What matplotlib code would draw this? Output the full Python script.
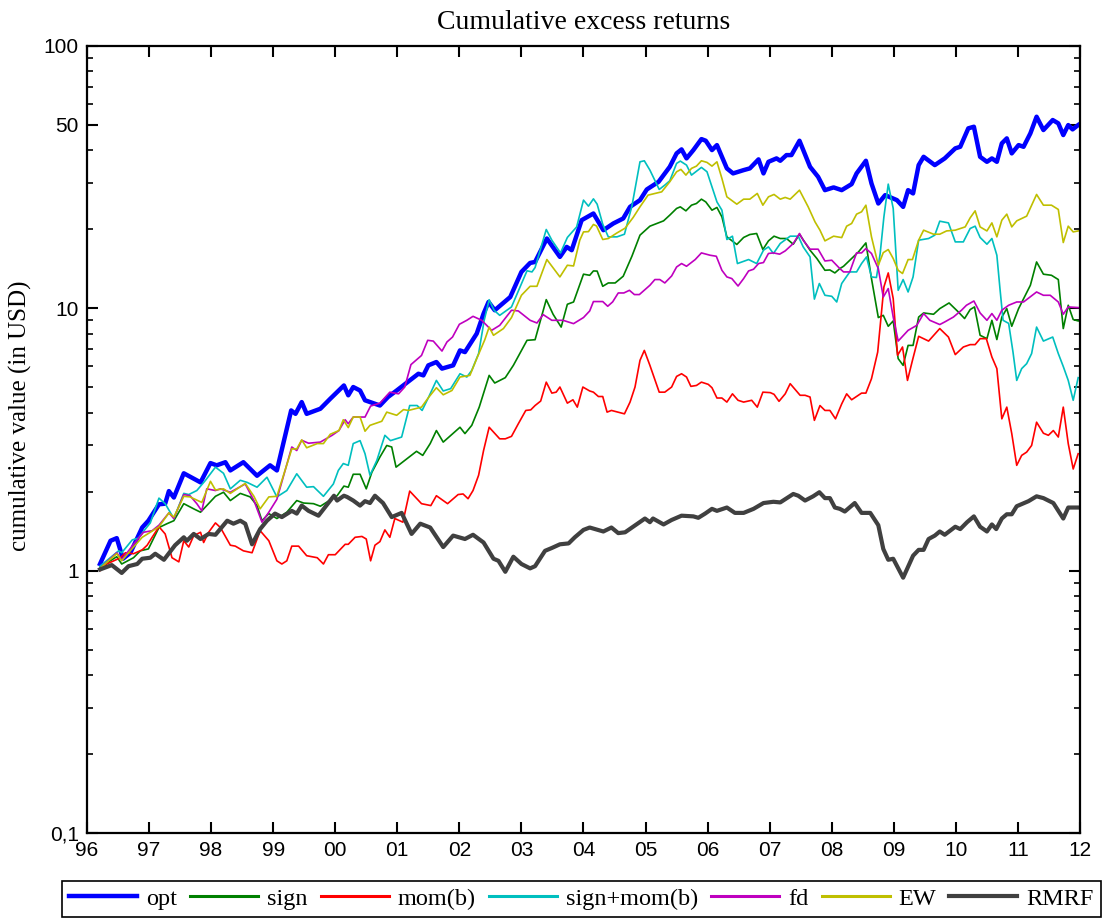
import matplotlib
matplotlib.use("Agg")
import matplotlib.pyplot as plt
from matplotlib.ticker import FixedLocator, FixedFormatter, NullFormatter

# Datos (anio decimal, valor acumulado)
opt_t = [1996.21, 1996.38, 1996.48, 1996.58, 1996.70, 1996.89, 1996.99, 1997.16, 1997.26, 1997.32, 1997.40, 1997.56,
         1997.83, 1997.99, 1998.09, 1998.23, 1998.31, 1998.52, 1998.74, 1998.95, 1999.06, 1999.29, 1999.36, 1999.46,
         1999.54, 1999.76, 1999.92, 2000.14, 2000.21, 2000.29, 2000.40, 2000.48, 2000.72, 2000.85, 2000.99, 2001.20,
         2001.34, 2001.42, 2001.50, 2001.63, 2001.72, 2001.90, 2002.01, 2002.09, 2002.28, 2002.39, 2002.47, 2002.57,
         2002.82, 2003.00, 2003.14, 2003.22, 2003.41, 2003.62, 2003.73, 2003.81, 2003.97, 2004.16, 2004.24, 2004.32,
         2004.48, 2004.64, 2004.75, 2004.91, 2005.02, 2005.21, 2005.39, 2005.50, 2005.58, 2005.66, 2005.77, 2005.90,
         2005.97, 2006.07, 2006.15, 2006.31, 2006.41, 2006.58, 2006.68, 2006.82, 2006.90, 2006.98, 2007.11, 2007.17,
         2007.27, 2007.35, 2007.48, 2007.65, 2007.78, 2007.89, 2008.03, 2008.16, 2008.32, 2008.40, 2008.55, 2008.64,
         2008.75, 2008.86, 2009.05, 2009.15, 2009.23, 2009.31, 2009.40, 2009.48, 2009.66, 2009.82, 2009.99, 2010.07,
         2010.20, 2010.29, 2010.39, 2010.50, 2010.58, 2010.66, 2010.74, 2010.82, 2010.90, 2011.01, 2011.09, 2011.20,
         2011.30, 2011.41, 2011.56, 2011.65, 2011.73, 2011.81, 2011.88, 2011.97]
opt_v = [1.06, 1.30, 1.33, 1.11, 1.17, 1.46, 1.55, 1.79, 1.80, 2.01, 1.90, 2.35,
         2.17, 2.57, 2.52, 2.59, 2.41, 2.59, 2.30, 2.52, 2.41, 4.08, 3.96, 4.39,
         3.96, 4.14, 4.52, 5.08, 4.66, 5.01, 4.86, 4.46, 4.26, 4.59, 4.86, 5.31,
         5.63, 5.55, 6.06, 6.24, 5.89, 6.06, 6.91, 6.81, 8.01, 9.54, 10.57, 9.83,
         11.04, 13.76, 14.89, 15.02, 18.45, 15.70, 17.14, 16.65, 21.67, 22.98, 21.35, 19.85,
         21.05, 22.0, 24.36, 25.84, 28.38, 30.35, 34.62, 38.95, 40.34, 37.27, 40.09, 44.16,
         43.52, 40.09, 41.89, 34.14, 32.67, 33.63, 34.14, 36.95, 32.67, 36.17, 37.27, 36.50,
         38.37, 38.37, 43.52, 34.62, 31.70, 28.21, 28.89, 28.21, 29.74, 32.67, 36.50, 29.91,
         25.09, 27.00, 25.84, 24.36, 28.21, 27.40, 35.14, 37.80, 35.14, 37.27, 40.70, 41.27,
         48.52, 49.21, 37.80, 36.17, 37.27, 36.17, 42.53, 44.43, 38.95, 41.89, 41.27, 46.43,
         53.73, 47.80, 52.19, 50.70, 45.75, 49.94, 48.08, 49.94]

sign_t = [1996.21, 1996.48, 1996.56, 1996.75, 1996.86, 1996.99, 1997.16, 1997.29, 1997.40, 1997.56, 1997.72, 1997.83,
          1998.07, 1998.20, 1998.31, 1998.47, 1998.63, 1998.74, 1998.82, 1998.93, 1999.06, 1999.22, 1999.38, 1999.49,
          1999.65, 1999.76, 1999.92, 2000.03, 2000.14, 2000.21, 2000.29, 2000.40, 2000.50, 2000.59, 2000.72, 2000.83,
          2000.91, 2000.98, 2001.12, 2001.31, 2001.41, 2001.53, 2001.63, 2001.74, 2002.01, 2002.09, 2002.20, 2002.32,
          2002.48, 2002.57, 2002.74, 2002.87, 2003.09, 2003.22, 2003.40, 2003.51, 2003.64, 2003.74, 2003.84, 2004.00,
          2004.10, 2004.16, 2004.22, 2004.31, 2004.40, 2004.51, 2004.64, 2004.78, 2004.91, 2005.07, 2005.29, 2005.39,
          2005.50, 2005.56, 2005.65, 2005.74, 2005.82, 2005.90, 2005.97, 2006.07, 2006.15, 2006.23, 2006.31, 2006.47,
          2006.58, 2006.68, 2006.79, 2006.89, 2006.98, 2007.07, 2007.17, 2007.27, 2007.38, 2007.48, 2007.65, 2007.76,
          2007.89, 2007.97, 2008.05, 2008.13, 2008.19, 2008.32, 2008.43, 2008.55, 2008.64, 2008.75, 2008.83, 2008.91,
          2008.99, 2009.07, 2009.15, 2009.23, 2009.31, 2009.40, 2009.48, 2009.64, 2009.74, 2009.89, 2010.04, 2010.14,
          2010.23, 2010.30, 2010.39, 2010.50, 2010.58, 2010.66, 2010.74, 2010.82, 2010.90, 2011.01, 2011.20, 2011.30,
          2011.41, 2011.54, 2011.65, 2011.73, 2011.81, 2011.89, 2011.97]
sign_v = [1.03, 1.13, 1.06, 1.12, 1.19, 1.21, 1.46, 1.51, 1.55, 1.80, 1.72, 1.67,
          1.92, 1.99, 1.85, 1.97, 1.91, 1.77, 1.55, 1.65, 1.58, 1.67, 1.85, 1.81,
          1.80, 1.76, 1.86, 1.93, 2.10, 2.08, 2.33, 2.33, 2.05, 2.37, 2.71, 3.00,
          2.96, 2.48, 2.63, 2.85, 2.75, 3.05, 3.42, 3.09, 3.52, 3.33, 3.58, 4.20,
          5.55, 5.19, 5.44, 6.06, 7.55, 7.59, 10.79, 9.49, 8.48, 10.36, 10.57, 13.49,
          13.36, 13.88, 13.86, 12.13, 12.49, 12.49, 13.25, 15.79, 19.0, 20.56, 21.54, 22.65,
          24.02, 24.36, 23.52, 24.72, 25.09, 26.06, 25.44, 23.66, 24.23, 22.31, 18.72, 17.51,
          18.62, 19.11, 19.28, 16.75, 18.07, 18.83, 18.45, 18.45, 17.55, 19.16, 16.65, 15.48,
          13.96, 14.0, 13.64, 14.17, 14.46, 15.48, 16.4, 17.75, 12.98, 9.22, 9.40, 8.54,
          8.95, 6.43, 6.06, 7.22, 7.22, 9.26, 9.60, 9.49, 9.97, 10.48, 9.68, 9.14,
          9.89, 10.12, 7.89, 7.66, 9.0, 7.6, 9.26, 9.97, 8.54, 9.97, 12.24, 15.02,
          13.49, 13.36, 12.87, 8.37, 10.27, 9.06, 8.95]

momb_t = [1996.21, 1996.32, 1996.54, 1996.62, 1996.75, 1996.89, 1996.97, 1997.05, 1997.16, 1997.26, 1997.37, 1997.48,
          1997.56, 1997.64, 1997.72, 1997.83, 1997.88, 1997.96, 1998.07, 1998.15, 1998.31, 1998.39, 1998.52, 1998.66,
          1998.79, 1998.93, 1999.06, 1999.14, 1999.22, 1999.30, 1999.41, 1999.54, 1999.71, 1999.81, 1999.89, 2000.00,
          2000.16, 2000.21, 2000.32, 2000.43, 2000.50, 2000.57, 2000.64, 2000.72, 2000.80, 2000.88, 2000.96, 2001.09,
          2001.20, 2001.39, 2001.54, 2001.63, 2001.81, 2001.98, 2002.06, 2002.14, 2002.22, 2002.31, 2002.39, 2002.48,
          2002.65, 2002.74, 2002.84, 2002.95, 2003.07, 2003.15, 2003.22, 2003.31, 2003.40, 2003.49, 2003.56, 2003.62,
          2003.74, 2003.83, 2003.90, 2003.99, 2004.10, 2004.16, 2004.24, 2004.31, 2004.38, 2004.45, 2004.66, 2004.75,
          2004.83, 2004.91, 2004.98, 2005.07, 2005.22, 2005.31, 2005.42, 2005.50, 2005.58, 2005.66, 2005.73, 2005.82,
          2005.90, 2006.01, 2006.07, 2006.15, 2006.23, 2006.31, 2006.40, 2006.49, 2006.58, 2006.71, 2006.80, 2006.89,
          2007.01, 2007.07, 2007.15, 2007.25, 2007.33, 2007.49, 2007.57, 2007.65, 2007.72, 2007.81, 2007.89, 2007.97,
          2008.06, 2008.16, 2008.24, 2008.32, 2008.48, 2008.55, 2008.64, 2008.74, 2008.81, 2008.84, 2008.91, 2008.99,
          2009.06, 2009.14, 2009.22, 2009.30, 2009.40, 2009.56, 2009.74, 2009.88, 2009.99, 2010.12, 2010.23, 2010.31,
          2010.39, 2010.49, 2010.58, 2010.66, 2010.74, 2010.82, 2010.90, 2010.98, 2011.06, 2011.14, 2011.22, 2011.30,
          2011.41, 2011.49, 2011.57, 2011.65, 2011.73, 2011.81, 2011.89, 2011.97]
momb_v = [1.0, 1.06, 1.12, 1.17, 1.16, 1.20, 1.25, 1.34, 1.47, 1.38, 1.12, 1.08,
          1.30, 1.23, 1.36, 1.40, 1.28, 1.40, 1.52, 1.46, 1.25, 1.24, 1.19, 1.17,
          1.42, 1.30, 1.09, 1.06, 1.09, 1.24, 1.24, 1.14, 1.12, 1.06, 1.15, 1.15,
          1.26, 1.26, 1.34, 1.35, 1.32, 1.09, 1.25, 1.29, 1.43, 1.34, 1.58, 1.53,
          2.01, 1.80, 1.77, 1.93, 1.80, 1.95, 1.96, 1.88, 2.02, 2.31, 2.87, 3.52,
          3.18, 3.18, 3.25, 3.63, 4.08, 4.10, 4.26, 4.43, 5.23, 4.75, 4.79, 5.01,
          4.35, 4.48, 4.20, 5.01, 4.84, 4.79, 4.61, 4.61, 4.02, 4.08, 3.96, 4.39,
          5.01, 6.33, 6.91, 6.06, 4.79, 4.79, 5.01, 5.50, 5.63, 5.47, 5.04, 5.08,
          5.23, 5.13, 4.98, 4.55, 4.55, 4.39, 4.72, 4.46, 4.39, 4.46, 4.20, 4.79,
          4.77, 4.70, 4.42, 4.72, 5.16, 4.66, 4.66, 4.59, 3.74, 4.26, 4.08, 4.08,
          3.79, 4.32, 4.72, 4.48, 4.75, 4.75, 5.39, 6.81, 10.1, 12.06, 13.64, 10.89,
          6.62, 7.12, 5.31, 6.33, 7.82, 7.50, 8.37, 7.77, 6.66, 7.12, 7.27, 7.27,
          7.66, 7.66, 6.52, 5.89, 3.79, 4.20, 3.33, 2.52, 2.75, 2.83, 3.0, 3.68,
          3.34, 3.28, 3.42, 3.23, 4.20, 3.05, 2.44, 2.79]

signmom_t = [1996.21, 1996.51, 1996.56, 1996.73, 1996.83, 1996.94, 1997.02, 1997.16, 1997.26, 1997.40, 1997.56, 1997.64,
             1997.77, 1997.91, 1998.07, 1998.20, 1998.31, 1998.47, 1998.58, 1998.74, 1998.90, 1999.06, 1999.22, 1999.38,
             1999.54, 1999.65, 1999.81, 1999.97, 2000.05, 2000.13, 2000.21, 2000.29, 2000.40, 2000.48, 2000.56, 2000.67,
             2000.80, 2000.89, 2001.07, 2001.20, 2001.32, 2001.40, 2001.50, 2001.63, 2001.74, 2001.86, 2002.01, 2002.12,
             2002.20, 2002.31, 2002.40, 2002.48, 2002.56, 2002.65, 2002.84, 2002.99, 2003.09, 2003.17, 2003.22, 2003.40,
             2003.49, 2003.63, 2003.74, 2003.89, 2004.00, 2004.08, 2004.16, 2004.22, 2004.31, 2004.40, 2004.54, 2004.66,
             2004.78, 2004.91, 2004.98, 2005.07, 2005.22, 2005.31, 2005.39, 2005.50, 2005.56, 2005.66, 2005.74, 2005.90,
             2005.99, 2006.07, 2006.15, 2006.23, 2006.31, 2006.40, 2006.48, 2006.66, 2006.79, 2006.90, 2006.98, 2007.06,
             2007.17, 2007.33, 2007.46, 2007.54, 2007.65, 2007.72, 2007.80, 2007.89, 2008.00, 2008.08, 2008.16, 2008.29,
             2008.40, 2008.48, 2008.56, 2008.64, 2008.72, 2008.78, 2008.84, 2008.91, 2008.99, 2009.07, 2009.15, 2009.23,
             2009.31, 2009.40, 2009.56, 2009.66, 2009.74, 2009.88, 2009.99, 2010.12, 2010.23, 2010.31, 2010.39, 2010.50,
             2010.58, 2010.66, 2010.71, 2010.76, 2010.85, 2010.92, 2010.98, 2011.06, 2011.14, 2011.22, 2011.30, 2011.41,
             2011.56, 2011.65, 2011.73, 2011.81, 2011.89, 2011.97]
signmom_v = [1.04, 1.19, 1.17, 1.31, 1.33, 1.44, 1.52, 1.89, 1.80, 1.58, 1.97, 1.95,
             2.02, 2.21, 2.48, 2.35, 2.05, 2.21, 2.17, 2.08, 2.27, 1.91, 2.02, 2.34,
             2.08, 2.09, 1.92, 2.14, 2.41, 2.56, 2.52, 3.05, 3.13, 2.79, 2.31, 2.63,
             3.28, 3.13, 3.23, 4.26, 4.26, 4.08, 4.56, 5.31, 4.84, 4.94, 5.63, 5.47,
             5.80, 6.72, 9.0, 10.78, 9.83, 9.40, 10.12, 12.24, 13.9, 13.76, 14.3, 19.97,
             18.18, 16.26, 18.62, 20.43, 25.84, 24.51, 26.13, 24.94, 20.92, 18.72, 18.72, 19.16,
             24.51, 36.17, 36.5, 33.63, 28.38, 29.48, 30.61, 35.67, 36.4, 35.14, 32.19, 34.44,
             33.14, 29.04, 25.44, 23.66, 18.29, 18.83, 14.81, 15.34, 14.81, 16.65, 17.14, 16.18,
             17.66, 18.83, 18.83, 17.14, 15.70, 10.84, 12.43, 11.21, 11.11, 10.57, 12.43, 13.76,
             13.76, 14.81, 15.70, 13.17, 13.10, 16.18, 22.31, 29.74, 24.02, 11.71, 12.87, 11.54,
             13.17, 18.18, 18.45, 19.0, 21.48, 21.16, 17.91, 17.91, 20.15, 20.56, 18.62, 17.55,
             18.45, 15.93, 11.89, 9.0, 8.76, 6.81, 5.31, 5.89, 6.15, 6.72, 8.48, 7.50,
             7.77, 6.72, 6.0, 5.31, 4.46, 5.44]

fd_t = [1996.21, 1996.48, 1996.56, 1996.75, 1996.91, 1997.05, 1997.16, 1997.32, 1997.40, 1997.56, 1997.66, 1997.77,
        1997.85, 1997.93, 1998.07, 1998.15, 1998.31, 1998.55, 1998.69, 1998.82, 1998.93, 1999.06, 1999.30, 1999.38,
        1999.46, 1999.57, 1999.76, 1999.95, 2000.06, 2000.16, 2000.21, 2000.29, 2000.48, 2000.57, 2000.72, 2000.88,
        2001.02, 2001.12, 2001.22, 2001.39, 2001.49, 2001.58, 2001.72, 2001.80, 2001.89, 2002.00, 2002.12, 2002.22,
        2002.36, 2002.52, 2002.65, 2002.84, 2002.95, 2003.14, 2003.25, 2003.35, 2003.49, 2003.67, 2003.84, 2004.00,
        2004.10, 2004.16, 2004.31, 2004.39, 2004.47, 2004.56, 2004.65, 2004.74, 2004.82, 2004.90, 2005.07, 2005.15,
        2005.23, 2005.31, 2005.42, 2005.50, 2005.58, 2005.66, 2005.80, 2005.90, 2006.04, 2006.14, 2006.23, 2006.31,
        2006.39, 2006.49, 2006.58, 2006.66, 2006.74, 2006.82, 2006.90, 2006.98, 2007.06, 2007.16, 2007.25, 2007.38,
        2007.48, 2007.54, 2007.65, 2007.78, 2007.89, 2008.00, 2008.13, 2008.19, 2008.29, 2008.40, 2008.48, 2008.55,
        2008.64, 2008.75, 2008.83, 2008.91, 2008.99, 2009.07, 2009.23, 2009.37, 2009.48, 2009.58, 2009.74, 2009.82,
        2009.96, 2010.09, 2010.17, 2010.29, 2010.39, 2010.50, 2010.58, 2010.66, 2010.74, 2010.85, 2010.98, 2011.09,
        2011.30, 2011.41, 2011.52, 2011.65, 2011.73, 2011.81, 2011.97]
fd_v = [1.02, 1.17, 1.10, 1.26, 1.40, 1.42, 1.49, 1.66, 1.58, 1.95, 1.93, 1.80,
        1.69, 2.05, 2.02, 2.05, 1.99, 2.14, 1.85, 1.53, 1.67, 1.87, 2.96, 2.87,
        3.14, 3.06, 3.09, 3.28, 3.42, 3.76, 3.63, 3.85, 3.85, 4.24, 4.35, 4.79,
        4.72, 5.01, 6.10, 6.61, 7.55, 7.50, 6.87, 7.44, 7.77, 8.69, 9.0, 9.32,
        9.0, 8.24, 8.61, 9.83, 9.77, 9.0, 8.79, 9.46, 9.0, 9.0, 8.74, 9.22,
        9.77, 10.61, 10.61, 10.18, 10.58, 11.44, 11.44, 11.71, 11.28, 11.28, 12.24, 12.87,
        12.87, 12.49, 13.28, 14.37, 14.81, 14.46, 15.34, 16.26, 15.93, 15.79, 13.96, 13.17,
        12.98, 12.16, 12.98, 13.88, 14.09, 14.81, 14.94, 16.18, 16.26, 16.08, 16.55, 17.66,
        19.28, 18.18, 16.80, 16.80, 15.15, 15.25, 14.17, 13.76, 13.76, 16.26, 16.26, 16.90,
        16.18, 14.17, 11.04, 11.89, 9.26, 7.50, 8.24, 8.61, 9.55, 9.0, 8.67, 8.87,
        9.26, 9.83, 10.27, 10.66, 9.60, 9.0, 9.55, 9.0, 9.83, 10.27, 10.57, 10.57,
        11.54, 11.21, 11.21, 10.57, 9.49, 10.12, 10.06]

ew_t = [1996.21, 1996.48, 1996.56, 1996.75, 1996.89, 1997.02, 1997.16, 1997.32, 1997.40, 1997.56, 1997.66, 1997.85,
        1997.99, 1998.07, 1998.20, 1998.31, 1998.55, 1998.69, 1998.79, 1998.93, 1999.06, 1999.30, 1999.38, 1999.46,
        1999.54, 1999.71, 1999.81, 1999.92, 2000.06, 2000.13, 2000.21, 2000.29, 2000.40, 2000.48, 2000.56, 2000.75,
        2000.83, 2000.99, 2001.10, 2001.18, 2001.39, 2001.50, 2001.63, 2001.74, 2001.88, 2002.01, 2002.17, 2002.28,
        2002.41, 2002.48, 2002.55, 2002.71, 2002.84, 2003.00, 2003.14, 2003.25, 2003.41, 2003.62, 2003.74, 2003.84,
        2003.94, 2004.00, 2004.08, 2004.16, 2004.21, 2004.31, 2004.40, 2004.54, 2004.67, 2004.80, 2004.91, 2005.04,
        2005.26, 2005.39, 2005.50, 2005.57, 2005.65, 2005.74, 2005.82, 2005.90, 2005.99, 2006.07, 2006.15, 2006.23,
        2006.31, 2006.47, 2006.58, 2006.68, 2006.80, 2006.89, 2006.98, 2007.07, 2007.17, 2007.25, 2007.33, 2007.48,
        2007.62, 2007.73, 2007.81, 2007.89, 2008.03, 2008.16, 2008.24, 2008.32, 2008.40, 2008.48, 2008.55, 2008.64,
        2008.75, 2008.83, 2008.91, 2008.99, 2009.07, 2009.14, 2009.23, 2009.30, 2009.40, 2009.48, 2009.64, 2009.74,
        2009.85, 2009.99, 2010.15, 2010.23, 2010.31, 2010.39, 2010.50, 2010.58, 2010.66, 2010.74, 2010.82, 2010.90,
        2010.98, 2011.14, 2011.30, 2011.41, 2011.54, 2011.65, 2011.73, 2011.81, 2011.89, 2011.97]
ew_v = [1.02, 1.16, 1.09, 1.23, 1.34, 1.40, 1.47, 1.66, 1.60, 1.92, 1.91, 1.82,
        2.19, 2.03, 2.05, 1.97, 2.15, 1.92, 1.72, 1.91, 1.92, 2.91, 2.91, 3.15,
        2.94, 3.05, 3.05, 3.31, 3.42, 3.76, 3.51, 3.85, 3.85, 3.40, 3.58, 3.71,
        4.02, 3.91, 4.11, 4.08, 4.20, 4.56, 4.98, 4.68, 4.86, 5.47, 5.55, 6.43,
        7.59, 8.48, 7.89, 8.37, 9.22, 11.21, 12.13, 12.13, 15.34, 13.17, 14.59, 14.5,
        18.18, 19.55, 19.6, 20.87, 20.6, 18.29, 18.45, 19.38, 20.2, 22.19, 24.36, 27.0,
        27.79, 30.35, 33.14, 33.84, 32.19, 34.14, 34.83, 36.5, 35.98, 34.83, 36.17, 31.26,
        26.6, 24.94, 26.06, 26.06, 27.4, 24.72, 26.6, 27.16, 26.06, 26.46, 26.06, 28.2,
        24.36, 21.35, 19.85, 18.07, 18.83, 18.6, 20.56, 21.05, 22.85, 23.32, 24.72, 18.72,
        14.59, 16.3, 16.75, 15.48, 13.96, 13.57, 15.34, 15.34, 18.18, 19.85, 19.16, 19.16,
        19.72, 19.85, 20.43, 22.12, 23.52, 20.43, 19.72, 21.16, 18.72, 21.67, 22.85, 20.43,
        21.54, 22.45, 27.16, 24.72, 24.72, 23.81, 17.81, 20.56, 19.55, 19.72]

rmrf_t = [1996.21, 1996.40, 1996.56, 1996.67, 1996.81, 1996.89, 1997.02, 1997.10, 1997.24, 1997.42, 1997.56, 1997.61,
          1997.72, 1997.83, 1997.96, 1998.07, 1998.26, 1998.36, 1998.47, 1998.55, 1998.66, 1998.79, 1998.90, 1999.03,
          1999.14, 1999.30, 1999.38, 1999.46, 1999.57, 1999.73, 1999.98, 2000.03, 2000.14, 2000.19, 2000.29, 2000.40,
          2000.48, 2000.56, 2000.64, 2000.77, 2000.91, 2001.07, 2001.23, 2001.37, 2001.53, 2001.74, 2001.90, 2002.09,
          2002.22, 2002.39, 2002.55, 2002.63, 2002.74, 2002.87, 2003.00, 2003.14, 2003.22, 2003.38, 2003.49, 2003.62,
          2003.76, 2003.86, 2004.00, 2004.10, 2004.32, 2004.45, 2004.56, 2004.67, 2004.80, 2004.99, 2005.07, 2005.12,
          2005.29, 2005.42, 2005.58, 2005.77, 2005.85, 2005.96, 2006.07, 2006.15, 2006.31, 2006.44, 2006.58, 2006.74,
          2006.90, 2007.06, 2007.17, 2007.38, 2007.46, 2007.57, 2007.70, 2007.80, 2007.89, 2007.97, 2008.05, 2008.13,
          2008.21, 2008.37, 2008.48, 2008.62, 2008.75, 2008.83, 2008.91, 2008.99, 2009.15, 2009.31, 2009.40, 2009.48,
          2009.56, 2009.66, 2009.74, 2009.82, 2009.99, 2010.07, 2010.18, 2010.29, 2010.39, 2010.50, 2010.58, 2010.65,
          2010.74, 2010.82, 2010.90, 2010.98, 2011.17, 2011.30, 2011.41, 2011.57, 2011.73, 2011.81, 2011.97]
rmrf_v = [1.01, 1.05, 0.98, 1.04, 1.06, 1.11, 1.12, 1.16, 1.10, 1.25, 1.34, 1.30,
          1.38, 1.32, 1.38, 1.37, 1.55, 1.51, 1.55, 1.51, 1.26, 1.44, 1.55, 1.65,
          1.60, 1.69, 1.65, 1.77, 1.69, 1.62, 1.93, 1.85, 1.93, 1.91, 1.85, 1.77,
          1.84, 1.81, 1.93, 1.81, 1.60, 1.66, 1.38, 1.51, 1.46, 1.23, 1.36, 1.32,
          1.37, 1.28, 1.11, 1.09, 0.99, 1.13, 1.06, 1.02, 1.04, 1.19, 1.22, 1.26,
          1.27, 1.34, 1.43, 1.46, 1.41, 1.46, 1.39, 1.40, 1.47, 1.58, 1.53, 1.58,
          1.50, 1.56, 1.62, 1.61, 1.59, 1.65, 1.72, 1.69, 1.74, 1.66, 1.66, 1.72,
          1.81, 1.83, 1.82, 1.96, 1.93, 1.85, 1.92, 1.99, 1.89, 1.89, 1.74, 1.72,
          1.68, 1.81, 1.66, 1.66, 1.49, 1.21, 1.10, 1.11, 0.94, 1.14, 1.20, 1.20,
          1.32, 1.36, 1.41, 1.37, 1.47, 1.44, 1.53, 1.61, 1.47, 1.41, 1.50, 1.44,
          1.58, 1.64, 1.64, 1.76, 1.84, 1.92, 1.89, 1.81, 1.58, 1.74, 1.74]

series = [
    ("opt", opt_t, opt_v, "#0000ff", 3.2),
    ("sign", sign_t, sign_v, "#008000", 1.2),
    ("mom(b)", momb_t, momb_v, "#ff0000", 1.2),
    ("sign+mom(b)", signmom_t, signmom_v, "#00bfbf", 1.2),
    ("fd", fd_t, fd_v, "#bf00bf", 1.2),
    ("EW", ew_t, ew_v, "#bfbf00", 1.2),
    ("RMRF", rmrf_t, rmrf_v, "#404040", 3.0),
]

anios = list(range(1996, 2013))
etiquetas_x = ["%02d" % (a % 100) for a in anios]
ticks_y = [0.1, 1, 10, 50, 100]
etiquetas_y = ["0,1", "1", "10", "50", "100"]

sans = "Liberation Sans"
serif = "Liberation Serif"

fig = plt.figure(figsize=(11.05, 9.19), dpi=100)
ax = fig.add_axes([0.0787, 0.0936, 0.8987, 0.8564])

for nombre, t, v, color, lw in series:
    ax.plot(t, v, color=color, lw=lw, label=nombre)

ax.set_yscale("log")
ax.set_xlim(1996, 2012)
ax.set_ylim(0.1, 100)

ax.xaxis.set_major_locator(FixedLocator(anios))
ax.xaxis.set_major_formatter(FixedFormatter(etiquetas_x))
ax.yaxis.set_major_locator(FixedLocator(ticks_y))
ax.yaxis.set_major_formatter(FixedFormatter(etiquetas_y))
menores = [m * 10.0 ** e for e in (-1, 0, 1) for m in range(2, 10) if not (e == 1 and m == 5)]
ax.yaxis.set_minor_locator(FixedLocator(menores))
ax.yaxis.set_minor_formatter(NullFormatter())

ax.tick_params(which="major", direction="in", length=8, width=1.5, top=True, right=True,
               labelsize=15, pad=6)
ax.tick_params(which="minor", direction="in", length=4, width=1.2, top=False, right=True)
for lab in ax.get_xticklabels() + ax.get_yticklabels():
    lab.set_fontfamily(sans)
for s in ax.spines.values():
    s.set_linewidth(1.6)

ax.set_title("Cumulative excess returns", fontfamily=serif, fontsize=20, pad=12)
ax.set_ylabel("cumulative value (in USD)", fontfamily=serif, fontsize=18)
# la coordenada x marca el borde derecho del texto girado
ax.yaxis.set_label_coords(-0.055, 0.53)

leg = fig.legend(loc="lower left", bbox_to_anchor=(0.056, 0.002, 0.94, 0.0415), mode="expand",
                 ncol=7, borderaxespad=0, fancybox=False, edgecolor="black", framealpha=1,
                 handlelength=2.8, handletextpad=0.35, columnspacing=0.5, borderpad=0.3,
                 prop={"family": serif, "size": 17.5})
leg.get_frame().set_linewidth(1.2)
for linea in leg.get_lines():
    if linea.get_linewidth() < 2:
        linea.set_linewidth(2.2)

fig.savefig("out.png", dpi=100)
